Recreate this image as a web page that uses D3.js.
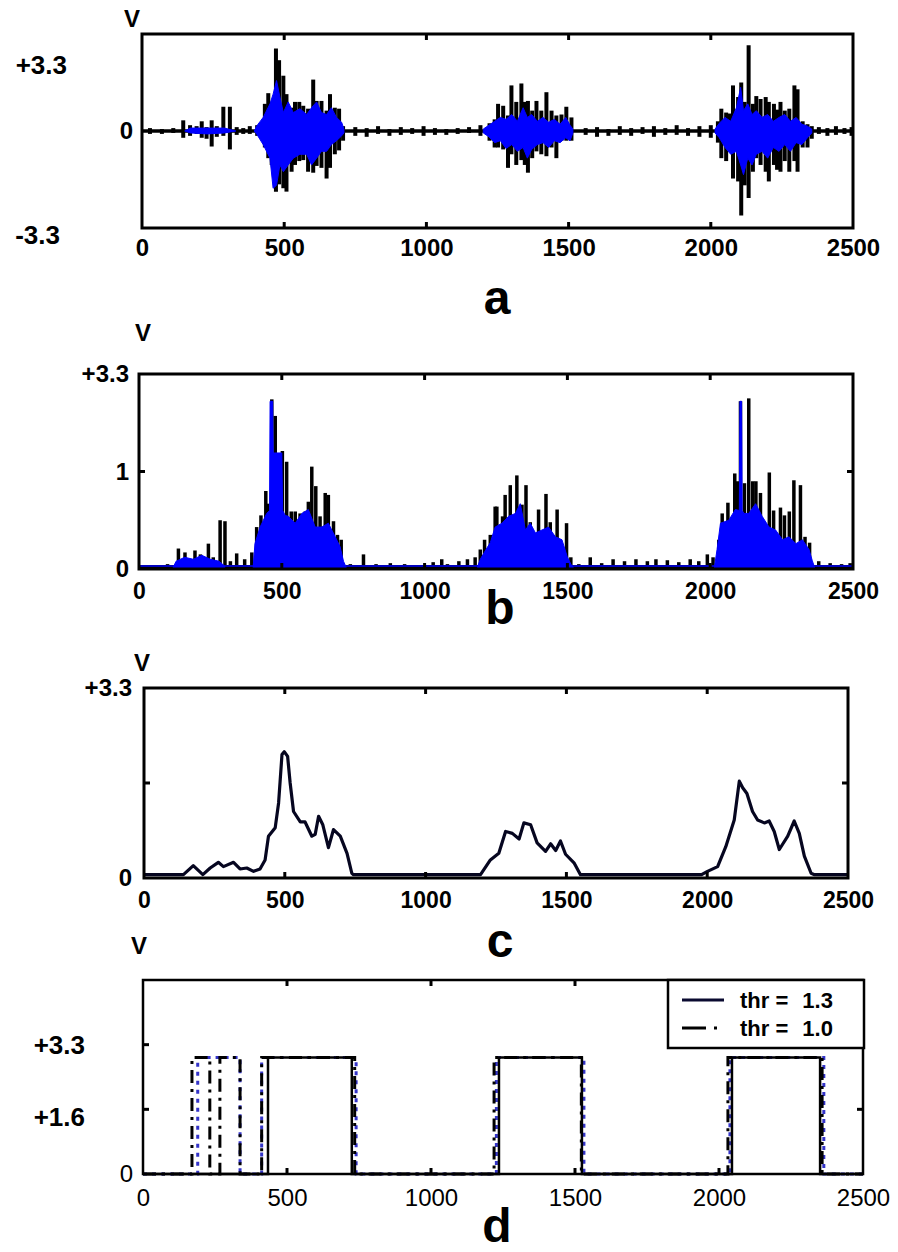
<!DOCTYPE html>
<html><head><meta charset="utf-8">
<script src="https://cdn.jsdelivr.net/npm/d3@7"></script>
<style>body{margin:0;background:#fff}svg{display:block}</style>
</head><body>
<svg id="chart" width="898" height="1252"></svg>
<script>
// ---------------- DATA ----------------
const xTickValues = [0, 500, 1000, 1500, 2000, 2500];
const panelLetters = ["a", "b", "c", "d"];
const unitLabel = "V";

// Panel a: raw signal spikes [sample, high, low]
const spikesA = [
  [28,0.03,-0.03],[70,0.02,-0.03],[110,0.03,-0.02],[145,0.11,-0.07],[169,0.06,-0.05],[192,0.05,-0.03],
  [210,0.10,-0.07],[227,0.04,-0.08],[245,0.11,-0.16],[263,0.05,-0.06],[286,0.25,-0.05],[309,0.25,-0.19],
  [333,0.04,-0.04],[356,0.03,-0.03],[379,0.05,-0.03],[405,0.06,-0.05],
  [432,0.28,-0.17],[444,0.39,-0.28],[456,0.30,-0.35],[471,0.85,-0.625],[482,0.73,-0.55],[497,0.57,-0.59],
  [508,0.38,-0.625],[526,0.24,-0.42],[538,0.30,-0.35],[553,0.30,-0.31],[567,0.26,-0.30],[584,0.23,-0.42],
  [602,0.53,-0.43],[614,0.31,-0.36],[631,0.31,-0.38],[649,0.21,-0.49],[661,0.38,-0.38],[678,0.24,-0.24],
  [693,0.23,-0.20],[707,0.05,-0.10],
  [750,0.04,-0.05],[790,0.03,-0.06],[830,0.05,-0.03],[870,0.02,-0.05],[910,0.04,-0.04],[950,0.03,-0.03],
  [990,0.05,-0.05],[1030,0.03,-0.04],[1070,0.02,-0.04],[1110,0.03,-0.03],[1150,0.04,-0.02],[1190,0.06,-0.05],
  [1222,0.08,-0.10],[1240,0.12,-0.17],[1252,0.28,-0.17],[1270,0.26,-0.19],[1287,0.16,-0.38],[1299,0.47,-0.24],
  [1316,0.30,-0.35],[1334,0.49,-0.30],[1346,0.30,-0.35],[1357,0.31,-0.43],[1372,0.21,-0.28],[1387,0.31,-0.21],
  [1404,0.21,-0.24],[1422,0.40,-0.26],[1440,0.21,-0.17],[1457,0.16,-0.28],[1475,0.17,-0.10],[1492,0.25,-0.10],
  [1510,0.14,-0.10],
  [1560,0.03,-0.04],[1600,0.04,-0.06],[1640,0.02,-0.05],[1680,0.05,-0.04],[1720,0.03,-0.05],[1760,0.04,-0.03],
  [1800,0.05,-0.06],[1840,0.03,-0.04],[1880,0.06,-0.04],[1920,0.03,-0.05],[1960,0.05,-0.06],[2000,0.06,-0.07],
  [2025,0.10,-0.12],[2037,0.23,-0.28],[2054,0.19,-0.31],[2066,0.18,-0.20],[2078,0.47,-0.49],[2096,0.35,-0.52],
  [2107,0.50,-0.87],[2119,0.30,-0.56],[2133,0.885,-0.69],[2148,0.28,-0.42],[2160,0.36,-0.28],[2175,0.33,-0.35],
  [2193,0.35,-0.42],[2204,0.30,-0.52],[2222,0.28,-0.35],[2233,0.22,-0.40],[2245,0.30,-0.42],[2260,0.21,-0.31],
  [2276,0.23,-0.42],[2294,0.47,-0.31],[2305,0.43,-0.42],[2323,0.10,-0.17],[2340,0.07,-0.17],[2355,0.05,-0.08],
  [2380,0.04,-0.03],[2410,0.03,-0.05],[2440,0.05,-0.04],[2470,0.03,-0.03],[2495,0.04,-0.05]
];
// Panel a: dense blue envelope [sample, upper, lower]; null separates bursts
const blueA = [
  [150,0,0],[170,0.03,-0.02],[230,0.03,-0.03],[290,0.03,-0.02],[330,0,0],
  null,
  [395,0,0],[403,0.05,-0.03],[426,0.14,-0.14],[450,0.28,-0.28],[461,0.38,-0.59],[473,0.52,-0.56],[485,0.35,-0.35],
  [497,0.19,-0.42],[514,0.30,-0.35],[532,0.19,-0.28],[555,0.23,-0.24],[579,0.17,-0.24],[596,0.24,-0.35],
  [614,0.30,-0.28],[631,0.19,-0.21],[649,0.17,-0.21],[666,0.24,-0.14],[684,0.14,-0.10],[702,0.09,-0.05],[710,0.02,-0.02],
  null,
  [1200,0.02,-0.02],[1220,0.06,-0.06],[1240,0.10,-0.12],[1260,0.14,-0.10],[1280,0.12,-0.18],[1300,0.17,-0.14],
  [1320,0.10,-0.21],[1340,0.24,-0.17],[1355,0.14,-0.28],[1370,0.17,-0.19],[1390,0.10,-0.14],[1410,0.14,-0.12],
  [1430,0.09,-0.17],[1450,0.12,-0.10],[1470,0.07,-0.12],[1490,0.14,-0.07],[1505,0.06,-0.10],[1515,0.02,-0.02],
  null,
  [2015,0.02,-0.02],[2030,0.08,-0.07],[2050,0.14,-0.17],[2070,0.10,-0.24],[2090,0.24,-0.21],[2105,0.45,-0.35],
  [2115,0.21,-0.45],[2130,0.28,-0.28],[2145,0.17,-0.35],[2160,0.21,-0.24],[2180,0.14,-0.21],[2200,0.17,-0.28],
  [2220,0.10,-0.17],[2240,0.14,-0.21],[2260,0.17,-0.14],[2280,0.10,-0.21],[2300,0.14,-0.12],[2320,0.07,-0.14],
  [2340,0.05,-0.07],[2355,0.02,-0.02]
];

// Panel b: rectified signal spikes [sample, height]
const spikesB = [
  [20,0.04],[60,0.03],[100,0.05],[138,0.21],[161,0.17],[175,0.10],[196,0.19],[215,0.15],[243,0.26],[260,0.12],
  [284,0.50],[301,0.49],[320,0.08],[342,0.16],[370,0.10],[395,0.17],
  [412,0.43],[427,0.55],[444,0.80],[453,0.67],[465,1.74],[477,1.57],[488,1.19],[502,1.21],[517,1.10],[533,0.59],
  [547,0.59],[564,0.57],[582,0.59],[593,0.69],[605,1.05],[619,0.85],[634,0.54],[652,0.78],[663,0.76],[681,0.49],
  [695,0.35],[708,0.30],
  [740,0.05],[786,0.15],[830,0.05],[880,0.06],[930,0.05],[980,0.04],[1030,0.07],[1060,0.10],[1080,0.05],
  [1120,0.08],[1150,0.10],[1177,0.12],
  [1195,0.20],[1210,0.30],[1230,0.35],[1247,0.64],[1253,0.64],[1273,0.54],[1282,0.76],[1300,0.86],[1323,0.96],
  [1341,0.66],[1355,0.86],[1370,0.48],[1385,0.37],[1399,0.61],[1425,0.77],[1440,0.48],[1464,0.61],[1482,0.20],
  [1497,0.47],[1512,0.12],
  [1540,0.05],[1580,0.12],[1620,0.06],[1660,0.10],[1700,0.08],[1740,0.10],[1780,0.08],[1810,0.10],[1850,0.09],
  [1890,0.07],[1930,0.10],[1960,0.08],[1990,0.15],[2010,0.12],
  [2030,0.30],[2042,0.57],[2062,0.68],[2075,0.50],[2086,0.98],[2095,0.90],[2106,1.72],[2120,0.88],[2135,1.75],
  [2149,0.90],[2160,0.90],[2176,0.78],[2190,0.40],[2207,0.99],[2222,0.60],[2246,0.63],[2260,0.55],[2277,0.59],
  [2293,0.91],[2316,0.86],[2332,0.33],[2348,0.27],
  [2380,0.08],[2420,0.06],[2460,0.05],[2490,0.06]
];
// Panel b: dense blue fill top [sample, height]; null separates bursts
const blueB = [
  [120,0.02],[130,0.08],[160,0.12],[190,0.10],[220,0.14],[250,0.10],[280,0.08],[300,0.03],
  null,
  [400,0.03],[406,0.26],[424,0.43],[447,0.57],[457,0.60],[459,1.72],[468,1.72],[470,1.19],[500,1.19],[503,0.60],
  [512,0.55],[523,0.54],[547,0.47],[570,0.57],[593,0.61],[617,0.43],[640,0.43],[663,0.47],[687,0.33],
  [704,0.23],[716,0.08],[725,0.02],
  null,
  [1185,0.02],[1195,0.10],[1215,0.20],[1230,0.27],[1247,0.43],[1271,0.47],[1294,0.54],[1318,0.57],[1335,0.67],
  [1353,0.40],[1370,0.47],[1388,0.37],[1411,0.40],[1434,0.43],[1458,0.33],[1481,0.30],[1499,0.13],[1512,0.05],
  [1520,0.02],
  null,
  [2015,0.02],[2024,0.20],[2036,0.47],[2065,0.50],[2088,0.61],[2102,0.60],[2104,1.72],[2110,1.72],[2112,0.60],
  [2118,0.57],[2135,0.57],[2159,0.67],[2182,0.54],[2206,0.43],[2229,0.40],[2253,0.30],[2276,0.33],[2300,0.26],
  [2323,0.30],[2346,0.20],[2357,0.09],[2365,0.02]
];

// Panel c: smoothed envelope [sample, value]
const envelopeC = [
  [0,0.035],[140,0.035],[175,0.13],[209,0.035],[235,0.105],[264,0.165],[282,0.12],[318,0.165],[341,0.095],
  [365,0.105],[389,0.07],[412,0.095],[430,0.19],[442,0.44],[466,0.53],[478,0.79],[490,1.30],[498,1.33],
  [510,1.28],[519,1.00],[531,0.70],[555,0.59],[572,0.59],[596,0.44],[608,0.46],[620,0.65],[635,0.56],
  [655,0.32],[673,0.51],[697,0.44],[721,0.26],[738,0.05],[744,0.035],[1195,0.035],[1230,0.19],[1260,0.26],
  [1284,0.49],[1308,0.47],[1332,0.41],[1349,0.58],[1373,0.56],[1396,0.37],[1426,0.28],[1444,0.36],
  [1462,0.29],[1479,0.39],[1497,0.25],[1527,0.16],[1550,0.035],[1980,0.035],[2001,0.07],[2037,0.12],
  [2066,0.33],[2096,0.61],[2114,1.02],[2126,0.95],[2141,0.89],[2161,0.70],[2179,0.61],[2203,0.58],
  [2220,0.60],[2238,0.49],[2256,0.30],[2286,0.44],[2309,0.60],[2327,0.47],[2345,0.23],[2369,0.05],
  [2381,0.035],[2500,0.035]
];

// Panel d: detection pulses [start, end]
const pulseLevel = 1.8;
const pulsesThr13 = [[434,725],[1236,1524],[2045,2351]];
const pulsesThr10 = [[170,232],[267,337],[412,735],[1219,1522],[2031,2358]];
const pulsesExtra = [[190,337],[412,740],[1227,1531],[2038,2364]];
const legendNames = ["thr =", "thr ="];
const legendValues = ["1.3", "1.0"];

// y labels
const aSideLabels = ["+3.3", "-3.3"];
const bYTicks = [0, 1, 2], bYLabels = ["0", "1", "+3.3"];
const cYTicks = [0, 2], cYLabels = ["0", "+3.3"];
const dYTicks = [1, 2], dYLabels = ["+1.6", "+3.3"];

// ---------------- DRAWING ----------------
const svg = d3.select("#chart");
const FONT = "'Liberation Sans', Arial, Helvetica, sans-serif";
const BLUE = "#0000ff";

function frame(x, y, o) {
  const g = svg.append("g");
  const [x0, x1] = x.range();
  const [yb, yt] = y.range();
  xTickValues.slice(1, -1).forEach(v => {
    g.append("line").attr("x1", x(v)).attr("x2", x(v)).attr("y1", yt).attr("y2", yt + 6)
      .attr("stroke", "#000").attr("stroke-width", 3);
    g.append("line").attr("x1", x(v)).attr("x2", x(v)).attr("y1", yb).attr("y2", yb - 6)
      .attr("stroke", "#000").attr("stroke-width", 3);
  });
  (o.yInner || []).forEach(v => {
    g.append("line").attr("x1", x0).attr("x2", x0 + 6).attr("y1", y(v)).attr("y2", y(v))
      .attr("stroke", "#000").attr("stroke-width", 3);
    g.append("line").attr("x1", x1).attr("x2", x1 - 6).attr("y1", y(v)).attr("y2", y(v))
      .attr("stroke", "#000").attr("stroke-width", 3);
  });
  g.append("rect").attr("x", x0).attr("y", yt).attr("width", x1 - x0).attr("height", yb - yt)
    .attr("fill", "none").attr("stroke", "#000").attr("stroke-width", o.frameW || 3);
  const ax = svg.append("g").attr("transform", `translate(0,${yb})`)
    .call(d3.axisBottom(x).tickValues(xTickValues).tickSize(0).tickPadding(o.xPad).tickFormat(d3.format("d")));
  ax.select(".domain").remove();
  ax.selectAll("text").attr("font-family", FONT).attr("font-size", o.fs).attr("font-weight", o.fw).attr("fill", "#000");
  return g;
}

function yAxisLabels(x, y, vals, labels, pad, fs, fw) {
  const ax = svg.append("g").attr("transform", `translate(${x.range()[0]},0)`)
    .call(d3.axisLeft(y).tickValues(vals).tickSize(0).tickPadding(pad).tickFormat((d, i) => labels[i]));
  ax.select(".domain").remove();
  ax.selectAll("text").attr("font-family", FONT).attr("font-size", fs).attr("font-weight", fw).attr("fill", "#000");
}

function text(x, y, s, fs, fw, anchor) {
  svg.append("text").attr("x", x).attr("y", y).attr("font-family", FONT).attr("font-size", fs)
    .attr("font-weight", fw).attr("text-anchor", anchor || "start").attr("dominant-baseline", "central")
    .attr("fill", "#000").text(s);
}

// ===== Panel a =====
{
  const x = d3.scaleLinear().domain([0, 2500]).range([142, 853]);
  const y = d3.scaleLinear().domain([-1, 1]).range([228, 34]);
  const g = svg.append("g");
  g.append("line").attr("x1", x(0)).attr("x2", x(2500)).attr("y1", y(0)).attr("y2", y(0))
    .attr("stroke", "#000").attr("stroke-width", 3.5);
  g.selectAll("line.sp").data(spikesA).join("line").attr("class", "sp")
    .attr("x1", d => x(d[0])).attr("x2", d => x(d[0])).attr("y1", d => y(d[1])).attr("y2", d => y(d[2]))
    .attr("stroke", "#000").attr("stroke-width", 4);
  const area = d3.area().defined(d => d !== null).x(d => x(d[0])).y0(d => y(d[2])).y1(d => y(d[1]));
  g.append("path").attr("d", area(blueA)).attr("fill", BLUE).attr("stroke", BLUE).attr("stroke-width", 1);
  frame(x, y, {xPad: 11, fs: 24, fw: "bold"});
  yAxisLabels(x, y, [0], ["0"], 9, 24, "bold");
  text(67, 65, aSideLabels[0], 26, "bold", "end");
  text(60, 235, aSideLabels[1], 26, "bold", "end");
  text(132, 18, unitLabel, 24, "bold", "middle");
  text(497, 297, panelLetters[0], 48, "bold", "middle");
}

// ===== Panel b =====
{
  const x = d3.scaleLinear().domain([0, 2500]).range([139, 853]);
  const y = d3.scaleLinear().domain([0, 2]).range([569, 374]);
  const g = svg.append("g");
  g.append("line").attr("x1", x(0)).attr("x2", x(2500)).attr("y1", y(0.02)).attr("y2", y(0.02))
    .attr("stroke", "#000").attr("stroke-width", 4);
  g.selectAll("line.sp").data(spikesB).join("line").attr("class", "sp")
    .attr("x1", d => x(d[0])).attr("x2", d => x(d[0])).attr("y1", d => y(d[1])).attr("y2", y(0))
    .attr("stroke", "#000").attr("stroke-width", 3.5);
  const area = d3.area().defined(d => d !== null).x(d => x(d[0])).y0(y(0.01)).y1(d => y(d[1]));
  g.append("path").attr("d", area(blueB)).attr("fill", BLUE).attr("stroke", BLUE).attr("stroke-width", 1);
  g.append("line").attr("x1", x(0)).attr("x2", x(2500)).attr("y1", y(0.03)).attr("y2", y(0.03))
    .attr("stroke", BLUE).attr("stroke-width", 1.5);
  frame(x, y, {xPad: 14, fs: 23, fw: "bold", yInner: [1]});
  yAxisLabels(x, y, bYTicks, bYLabels, 10, 24, "bold");
  text(143, 332, unitLabel, 24, "bold", "middle");
  text(500, 607, panelLetters[1], 48, "bold", "middle");
}

// ===== Panel c =====
{
  const x = d3.scaleLinear().domain([0, 2500]).range([144, 848]);
  const y = d3.scaleLinear().domain([0, 2]).range([878, 688]);
  const line = d3.line().x(d => x(d[0])).y(d => y(d[1]));
  svg.append("path").attr("d", line(envelopeC)).attr("fill", "none").attr("stroke", "#060620")
    .attr("stroke-width", 3.2).attr("stroke-linejoin", "round");
  frame(x, y, {xPad: 14, fs: 23, fw: "bold", yInner: [1]});
  yAxisLabels(x, y, cYTicks, cYLabels, 12, 24, "bold");
  text(142, 662, unitLabel, 24, "bold", "middle");
  text(500, 940, panelLetters[2], 48, "bold", "middle");
}

// ===== Panel d =====
{
  const x = d3.scaleLinear().domain([0, 2500]).range([143, 863]);
  const y = d3.scaleLinear().domain([0, 3]).range([1174, 980]);
  const line = d3.line().x(d => x(d[0])).y(d => y(d[1]));
  const steps = ps => {
    const pts = [[0, 0]];
    ps.forEach(([s, e]) => { pts.push([s, 0], [s, pulseLevel], [e, pulseLevel], [e, 0]); });
    pts.push([2500, 0]);
    return pts;
  };
  svg.append("path").attr("d", line(steps(pulsesExtra))).attr("fill", "none")
    .attr("stroke", "#3434c8").attr("stroke-width", 3).attr("stroke-dasharray", "4,5");
  svg.append("path").attr("d", line(steps(pulsesThr10))).attr("fill", "none")
    .attr("stroke", "#000").attr("stroke-width", 3).attr("stroke-dasharray", "13,6,3,6");
  svg.append("path").attr("d", line(steps(pulsesThr13))).attr("fill", "none")
    .attr("stroke", "#000").attr("stroke-width", 2.5);
  frame(x, y, {xPad: 15, fs: 24, fw: "normal", yInner: [1, 2], frameW: 2.5});
  yAxisLabels(x, y, [0], ["0"], 10, 24, "normal");
  dYTicks.forEach((v, i) => text(85, y(v) + (i === 0 ? 8 : 0), dYLabels[i], 26, "bold", "end"));
  text(139, 945, unitLabel, 24, "bold", "middle");
  text(497, 1225, panelLetters[3], 48, "bold", "middle");

  const lg = svg.append("g");
  lg.append("rect").attr("x", 668).attr("y", 980).attr("width", 196).attr("height", 68)
    .attr("fill", "#fff").attr("stroke", "#000").attr("stroke-width", 2.5);
  const rows = [1000, 1028];
  lg.append("line").attr("x1", 682).attr("x2", 724).attr("y1", rows[0]).attr("y2", rows[0])
    .attr("stroke", "#0a0a30").attr("stroke-width", 3);
  lg.append("line").attr("x1", 682).attr("x2", 719).attr("y1", rows[1]).attr("y2", rows[1])
    .attr("stroke", "#000").attr("stroke-width", 3).attr("stroke-dasharray", "24,8,3,20");
  legendNames.forEach((n, i) => {
    const t = lg.append("text").attr("x", 740).attr("y", rows[i]).attr("dominant-baseline", "central")
      .attr("font-family", FONT).attr("font-size", 22).attr("fill", "#000");
    t.append("tspan").attr("font-weight", "bold").text(n);
    t.append("tspan").attr("dx", 14).attr("font-weight", "bold").text(legendValues[i]);
  });
}
</script>
</body></html>
